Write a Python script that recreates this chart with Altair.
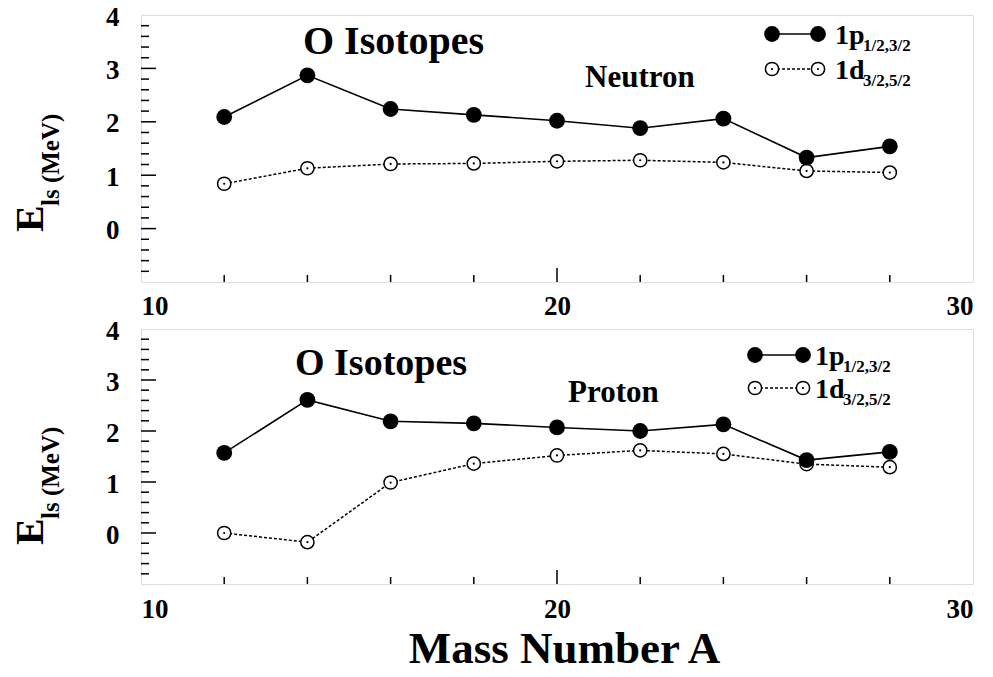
import altair as alt
import pandas as pd

# ---------------- data ----------------
A = [12, 14, 16, 18, 20, 22, 24, 26, 28]
neutron_p = [2.09, 2.87, 2.24, 2.13, 2.02, 1.88, 2.06, 1.33, 1.54]
neutron_d = [0.84, 1.13, 1.21, 1.22, 1.26, 1.28, 1.24, 1.08, 1.05]
proton_p = [1.57, 2.61, 2.19, 2.15, 2.07, 2.00, 2.13, 1.43, 1.59]
proton_d = [0.00, -0.18, 0.99, 1.36, 1.52, 1.62, 1.55, 1.35, 1.29]

x_labels = [10, 20, 30]
y_labels = [0, 1, 2, 3, 4]
x_minor = [12, 14, 16, 18, 22, 24, 26, 28]
x_major = [20]
y_major = [0, 1, 2, 3]
y_minor = [-0.8, -0.6, -0.4, -0.2, 0.2, 0.4, 0.6, 0.8, 1.2, 1.4, 1.6, 1.8,
           2.2, 2.4, 2.6, 2.8, 3.2, 3.4, 3.6, 3.8]

FONT = "Liberation Serif"
W = 832


def one():
    return pd.DataFrame({"z": [0]})


def text(s, x, y, size, **kw):
    return alt.Chart(one()).mark_text(
        font=FONT, fontWeight="bold", fontSize=size, color="black",
        align=kw.pop("align", "left"), baseline=kw.pop("baseline", "alphabetic"), **kw
    ).encode(x=alt.value(x), y=alt.value(y), text=alt.value(s))


def marker(x, y, filled):
    if filled:
        return [alt.Chart(one()).mark_point(shape="circle", filled=True, color="black",
                                            size=250, opacity=1).encode(x=alt.value(x), y=alt.value(y))]
    return [
        alt.Chart(one()).mark_point(shape="circle", filled=True, fill="white", stroke="black",
                                    strokeWidth=1.5, size=175, opacity=1).encode(x=alt.value(x), y=alt.value(y)),
        alt.Chart(one()).mark_point(shape="circle", filled=True, color="black",
                                    size=5, opacity=1).encode(x=alt.value(x), y=alt.value(y)),
    ]


def panel(p_vals, d_vals, H, xtitle, lbl_pad, texts, leg):
    df = pd.DataFrame({"A": A, "p": p_vals, "d": d_vals})
    xs = alt.Scale(domain=[10, 30], nice=False, zero=False)
    ys = alt.Scale(domain=[-1, 4], nice=False, zero=False)
    xaxis_kw = dict(values=x_labels, ticks=False, domain=False, grid=False, labelFont=FONT,
                    labelFontWeight="bold", labelFontSize=27, labelPadding=lbl_pad,
                    labelColor="black", format="d")
    if xtitle:
        xaxis = alt.Axis(title=xtitle, titleFont=FONT, titleFontWeight="bold", titleFontSize=45,
                         titleColor="black", titlePadding=4, titleX=423, titleAlign="center",
                         **xaxis_kw)
    else:
        xaxis = alt.Axis(title=None, **xaxis_kw)
    yaxis = alt.Axis(values=y_labels, ticks=False, domain=False, grid=False, labelFont=FONT,
                     labelFontWeight="bold", labelFontSize=27, labelPadding=22, labelOffset=2,
                     labelColor="black", title=None, format="d")

    def X(f):
        return alt.X(f + ":Q", scale=xs, axis=xaxis)

    def Y(f):
        return alt.Y(f + ":Q", scale=ys, axis=yaxis)

    base = alt.Chart(df)
    layers = [
        base.mark_line(color="black", strokeWidth=1.5, strokeDash=[3, 2]).encode(x=X("A"), y=Y("d")),
        base.mark_line(color="black", strokeWidth=1.6).encode(x=X("A"), y=Y("p")),
        base.mark_point(shape="circle", filled=True, fill="white", stroke="black", strokeWidth=1.5,
                        size=175, opacity=1).encode(x=X("A"), y=Y("d")),
        base.mark_point(shape="circle", filled=True, color="black", size=5,
                        opacity=1).encode(x=X("A"), y=Y("d")),
        base.mark_point(shape="circle", filled=True, color="black", size=250,
                        opacity=1).encode(x=X("A"), y=Y("p")),
    ]
    # inside ticks (bottom and left)
    layers += [
        alt.Chart(pd.DataFrame({"A": x_minor})).mark_rule(color="black", strokeWidth=1.5).encode(
            x=X("A"), y=alt.value(H), y2=alt.value(H - 7)),
        alt.Chart(pd.DataFrame({"A": x_major})).mark_rule(color="black", strokeWidth=1.5).encode(
            x=X("A"), y=alt.value(H), y2=alt.value(H - 14)),
        alt.Chart(pd.DataFrame({"v": y_minor})).mark_rule(color="black", strokeWidth=1.5).encode(
            y=Y("v"), x=alt.value(0), x2=alt.value(8)),
        alt.Chart(pd.DataFrame({"v": y_major})).mark_rule(color="black", strokeWidth=1.5).encode(
            y=Y("v"), x=alt.value(0), x2=alt.value(15)),
    ]
    # y-axis title E_ls (MeV)
    ey = texts["ey"]
    layers += [
        text("E", -98, ey, 40, angle=270),
        text("ls (MeV)", -82, ey - 26, 25, angle=270),
    ]
    # annotations
    for s, x, y, size in texts["ann"]:
        layers.append(text(s, x, y, size))
    # legend
    lx1, lx2, ly1, ly2, tx, sub_dx = leg
    layers += [
        alt.Chart(one()).mark_rule(color="black", strokeWidth=1.6).encode(
            x=alt.value(lx1), x2=alt.value(lx2), y=alt.value(ly1)),
        alt.Chart(one()).mark_rule(color="black", strokeWidth=1.5, strokeDash=[3, 2]).encode(
            x=alt.value(lx1), x2=alt.value(lx2), y=alt.value(ly2)),
    ]
    layers += marker(lx1, ly1, True) + marker(lx2, ly1, True)
    layers += marker(lx1, ly2, False) + marker(lx2, ly2, False)
    layers += [
        text("1p", tx, ly1 + 10, 28),
        text("1/2,3/2", tx + sub_dx, ly1 + 17, 17),
        text("1d", tx, ly2 + 10, 28),
        text("3/2,5/2", tx + sub_dx, ly2 + 17, 17),
    ]
    return alt.layer(*layers).properties(width=W, height=H)


top = panel(neutron_p, neutron_d, 267, None, 11,
            {"ey": 217, "ann": [("O Isotopes", 162, 39, 40), ("Neutron", 444, 72, 31)]},
            (631, 677, 19, 54, 694, 28))
bottom = panel(proton_p, proton_d, 255, "Mass Number A", 12,
               {"ey": 216, "ann": [("O Isotopes", 154, 46, 38), ("Proton", 427, 73, 31)]},
               (614, 662, 26, 59, 674, 28))

chart = alt.vconcat(top, bottom, spacing=-4).properties(
    padding={"left": 2, "top": -6, "right": 5, "bottom": 0}
).configure_view(stroke="black", strokeWidth=2).configure(background="white", font=FONT)

chart.save("out.html", embed_options={"renderer": "svg", "actions": False})
